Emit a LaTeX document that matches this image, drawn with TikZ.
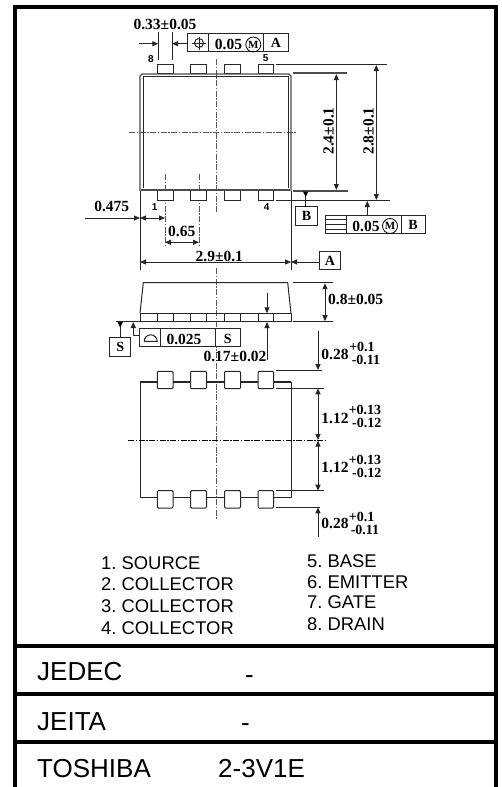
\documentclass[tikz,border=0pt]{standalone}
\usepackage{fontspec}
\setmainfont{Liberation Serif}
\newfontfamily\arialf{Liberation Sans}
\usetikzlibrary{arrows.meta}
\tikzset{
 x=1pt,y=-1pt,
 fr/.style={line width=4pt,black},
 ln/.style={line width=1pt,black!85},
 thk/.style={line width=1.4pt,black!70},
 cl/.style={line width=.5pt,black!65,dash pattern=on 6pt off 1.5pt on 1.5pt off 1.5pt},
 clb/.style={line width=.8pt,black,dash pattern=on 6pt off 1.5pt on 1.5pt off 1.5pt},
 dm/.style={line width=1pt,black!85,{Triangle[length=6pt,width=5pt]}-{Triangle[length=6pt,width=5pt]}},
 ar/.style={line width=1pt,black!85,-{Triangle[length=6pt,width=5pt]}},
 bx/.style={draw=black!85,line width=1pt,fill=white},
 dt/.style={font=\fontsize{15.5}{15.5}\bfseries\selectfont,inner sep=0pt},
 st/.style={font=\fontsize{14}{14}\bfseries\selectfont,inner sep=0pt},
 pn/.style={font=\arialf\fontsize{10}{10}\bfseries\selectfont,inner sep=0pt},
 lst/.style={font=\arialf\fontsize{18.4}{18.4}\selectfont,inner sep=0pt,anchor=west},
 big/.style={font=\arialf\fontsize{26}{26}\selectfont,inner sep=0pt,anchor=west},
}
\newcommand{\pinrow}[3]{%
 \draw[#3] (157.3,#1) rectangle (173,#2);
 \draw[#3] (190.6,#1) rectangle (206.5,#2);
 \draw[#3] (224.5,#1) rectangle (240.5,#2);
 \draw[#3] (258,#1) rectangle (273.5,#2);}
\frenchspacing
\begin{document}
\begin{tikzpicture}
\useasboundingbox[fill=white] (0,0) rectangle (501,787);
% frame
\draw[fr] (13.3,7.2) -- (498,7.2);
\draw[fr] (15.3,5.2) -- (15.3,787);
\draw[fr] (496,5.2) -- (496,787);
\draw[fr] (13.3,646) -- (498,646);
\draw[fr] (13.3,693.8) -- (498,693.8);
\draw[fr] (13.3,742) -- (498,742);
% centre lines
\draw[cl] (216.3,59) -- (216.3,213);
\draw[cl] (129,132) -- (296,132);
\draw[cl] (165,174) -- (165,245);
\draw[cl] (199,174) -- (199,245);
\draw[cl] (216,268) -- (216,520);
% top view
\pinrow{64}{73.5}{ln,fill=white}
\pinrow{190.7}{200.7}{ln,fill=white}
\draw[thk,fill=none] (140,191) -- (140,76) -- (142,74) -- (289,74) -- (291,76) -- (291,191);
\draw[ln] (143,188) -- (143,76.5) -- (288.5,76.5) -- (288.5,188);
\draw[thk,line width=1.6pt] (141,189.8) -- (290,189.8);
\node[pn] (p8) at (151,59) {8};
\node[pn] (p5) at (265.7,58.5) {5};
\node[pn] (p1) at (154.7,207) {1};
\node[pn] (p4) at (266.7,207) {4};
% 0.33
\node[dt] (d33) at (165,24) {0.33±0.05};
\draw[ln] (158.3,32) -- (158.3,60);
\draw[ln] (172,32) -- (172,60);
\coordinate (a33l) at (139,43.7); \coordinate (t33l) at (158.3,43.7);
\coordinate (a33r) at (187.3,43.7); \coordinate (t33r) at (172,43.7);
\draw[ar] (a33l) -- (t33l);
\draw[ar] (a33r) -- (t33r);
% FCF top
\node[bx,minimum width=101pt,minimum height=18.4pt,inner sep=0pt] (fa) at (237.8,42.5) {};
\draw[ln] (208.7,33.3) -- (208.7,51.7);
\draw[ln] (263.7,33.3) -- (263.7,51.7);
\draw[ln] (199,43) circle (4.5pt);
\draw[ln] (192,43) -- (206,43);
\draw[ln] (199,36.5) -- (199,49.5);
\node[dt] (fa1) at (228.5,44.5) {0.05};
\node[dt,draw=black,circle,line width=.8pt,minimum size=15pt,font=\fontsize{11}{11}\bfseries\selectfont] (fa2) at (253.3,44.5) {M};
\node[dt,font=\fontsize{14}{14}\bfseries\selectfont] (fa3) at (276,43) {A};
% right dims
\draw[thk] (293,73) -- (347,73);
\draw[thk] (293,191) -- (348,191);
\draw[ln] (276,64) -- (387,64);
\draw[ln] (276,200.3) -- (390,200.3);
\coordinate (d24t) at (336.3,74); \coordinate (d24b) at (336.3,190);
\coordinate (d28t) at (376.3,65); \coordinate (d28b) at (376.3,200);
\draw[dm] (d24t) -- (d24b);
\draw[dm] (d28t) -- (d28b);
\node[dt,rotate=90] (d24) at (328.5,131) {2.4±0.1};
\node[dt,rotate=90] (d28) at (368.5,131) {2.8±0.1};
% datum B
\node[bx,minimum width=21.6pt,minimum height=19pt,inner sep=0pt,font=\fontsize{14}{14}\bfseries\selectfont] (bb) at (306.5,215.8) {B};
\coordinate (bt) at (305.7,191.5);
\draw[ln] (bb.north -| bt) -- (bt);
\fill[black] (303,191.5) -- (308.4,191.5) -- (305.7,197) -- cycle;
% FCF B
\node[bx,minimum width=100pt,minimum height=18.3pt,inner sep=0pt] (fb) at (375.3,224.2) {};
\draw[ln] (346.7,215) -- (346.7,233.3);
\draw[ln] (401,215) -- (401,233.3);
\draw[ln] (325.3,219) -- (346.7,219);
\draw[ln] (325.3,224.3) -- (346.7,224.3);
\draw[ln] (325.3,229.5) -- (346.7,229.5);
\node[dt] (fb1) at (366,226) {0.05};
\node[dt,draw=black,circle,line width=.8pt,minimum size=15pt,font=\fontsize{11}{11}\bfseries\selectfont] (fb2) at (390,226) {M};
\node[dt,font=\fontsize{14}{14}\bfseries\selectfont] (fb3) at (413,225) {B};
\coordinate (fbt) at (367.3,201);
\draw[ar] (fb.north -| fbt) -- (fbt);
% horizontal dims
\draw[ln] (140,191) -- (140,270);
\draw[ln] (291,191) -- (291,270);
\node[dt] (d475) at (111.7,206) {0.475};
\coordinate (h0) at (85,218); \coordinate (h1) at (140,218); \coordinate (h2) at (165,218);
\draw[ar] (h0) -- (h1);
\draw[dm] (h1) -- (h2);
\node[dt] (d65) at (181.7,231.7) {0.65};
\coordinate (h3) at (165,242.3); \coordinate (h4) at (199,242.3);
\draw[dm] (h3) -- (h4);
\node[dt] (d29) at (219.3,256) {2.9±0.1};
\coordinate (h5) at (140,262); \coordinate (h6) at (291,262);
\draw[dm] (h5) -- (h6);
\node[bx,minimum width=20.3pt,minimum height=17.6pt,inner sep=0pt,font=\fontsize{14}{14}\bfseries\selectfont] (ba) at (330,260.5) {A};
\draw[ar] (ba.west |- h6) -- (h6);
% side view
\draw[ln] (140,313.3) -- (143.3,282.7) -- (287.7,282.7) -- (291,313.3);
\draw[ln] (140,313.3) rectangle (291,321.7);
\pinrow{313.3}{321.7}{ln}
\draw[ln] (293,282.7) -- (333,282.7);
\draw[ln] (293,321.7) -- (333,321.7);
\coordinate (d08t) at (325,283.2); \coordinate (d08b) at (325,321.2);
\draw[dm] (d08t) -- (d08b);
\node[dt] (d08) at (355.7,299.3) {0.8±0.05};
\coordinate (v1) at (267,293); \coordinate (v2) at (267,313.3);
\coordinate (v3) at (267,360); \coordinate (v4) at (267,322);
\draw[ar] (v1) -- (v2);
\draw[ar] (v3) -- (v4);
\node[dt] (d17) at (235,356) {0.17±0.02};
% FCF S
\node[bx,minimum width=101pt,minimum height=18.3pt,inner sep=0pt] (fs) at (189.8,337.2) {};
\draw[ln] (160.7,328) -- (160.7,346.3);
\draw[ln] (215.7,328) -- (215.7,346.3);
\draw[ln] (144.2,341.3) -- (157.2,341.3) arc[start angle=0,end angle=180,radius=6.5pt];
\node[dt] (fs1) at (184,339) {0.025};
\node[dt,font=\fontsize{14}{14}\bfseries\selectfont] (fs2) at (227.7,338.5) {S};
\node[bx,minimum width=21pt,minimum height=18.6pt,inner sep=0pt,font=\fontsize{14}{14}\bfseries\selectfont] (bs) at (120.2,347) {S};
\draw[ln] (116,321.7) -- (140,321.7);
\coordinate (st) at (120.2,322);
\draw[ln] (bs.north) -- (st);
\fill[black] (117.5,322) -- (122.9,322) -- (120.2,327.5) -- cycle;
\coordinate (s1) at (133.3,335.7); \coordinate (s2) at (133.3,322);
\draw[ar] (fs.west |- s1) -- (s1) -- (s2);
% bottom view
\draw[ln,line width=1.5pt] (140,382) -- (291,382);
\draw[ln] (140,382) -- (140,497.7) -- (291,497.7) -- (291,382);
\pinrow{371.3}{388.7}{ln,fill=white,rounded corners=1pt}
\pinrow{490.7}{508}{ln,fill=white,rounded corners=1pt}
\draw[clb] (128,440.3) -- (326.7,440.3);
\draw[ln] (276,370) -- (322,370);
\draw[ln] (276,388.3) -- (324,388.3);
\draw[ln] (276,490.7) -- (324,490.7);
\draw[ln] (276,507.3) -- (320,507.3);
\coordinate (w0) at (318,331); \coordinate (w1) at (318,370);
\coordinate (w2) at (318,388.3); \coordinate (w3) at (318,440);
\coordinate (w4) at (318,440.6); \coordinate (w5) at (318,490.7);
\coordinate (w6) at (318,507.3); \coordinate (w7) at (318,536.7);
\draw[ar] (w0) -- (w1);
\draw[dm] (w2) -- (w3);
\draw[dm] (w4) -- (w5);
\draw[ar] (w7) -- (w6);
\node[dt] (t1) at (335,354) {0.28};
\node[st] (t1a) at (362,346.5) {+0.1};
\node[st] (t1b) at (366,359.5) {-0.11};
\node[dt] (t2) at (335,418) {1.12};
\node[st] (t2a) at (365,409.5) {+0.13};
\node[st] (t2b) at (366.7,422.5) {-0.12};
\node[dt] (t3) at (335,467) {1.12};
\node[st] (t3a) at (365,460) {+0.13};
\node[st] (t3b) at (366.7,473) {-0.12};
\node[dt] (t4) at (335,523) {0.28};
\node[st] (t4a) at (361.7,516.5) {+0.1};
\node[st] (t4b) at (365,529.5) {-0.11};
% pin list
\node[lst] (l1) at (101,562.7) {1. SOURCE};
\node[lst] (l2) at (101,584) {2. COLLECTOR};
\node[lst] (l3) at (101,605.7) {3. COLLECTOR};
\node[lst] (l4) at (101,627.7) {4. COLLECTOR};
\node[lst] (r1) at (307,560.7) {5. BASE};
\node[lst] (r2) at (307,582) {6. EMITTER};
\node[lst] (r3) at (307,602) {7. GATE};
\node[lst] (r4) at (307,624) {8. DRAIN};
% table
\node[big] (j1) at (37,672) {JEDEC};
\node[big] (j2) at (245,680) {-};
\node[big] (k1) at (37,721.7) {JEITA};
\node[big] (k2) at (241,728) {-};
\node[big] (m1) at (37,769) {TOSHIBA};
\node[big] (m2) at (218,769) {2-3V1E};
\end{tikzpicture}
\end{document}
